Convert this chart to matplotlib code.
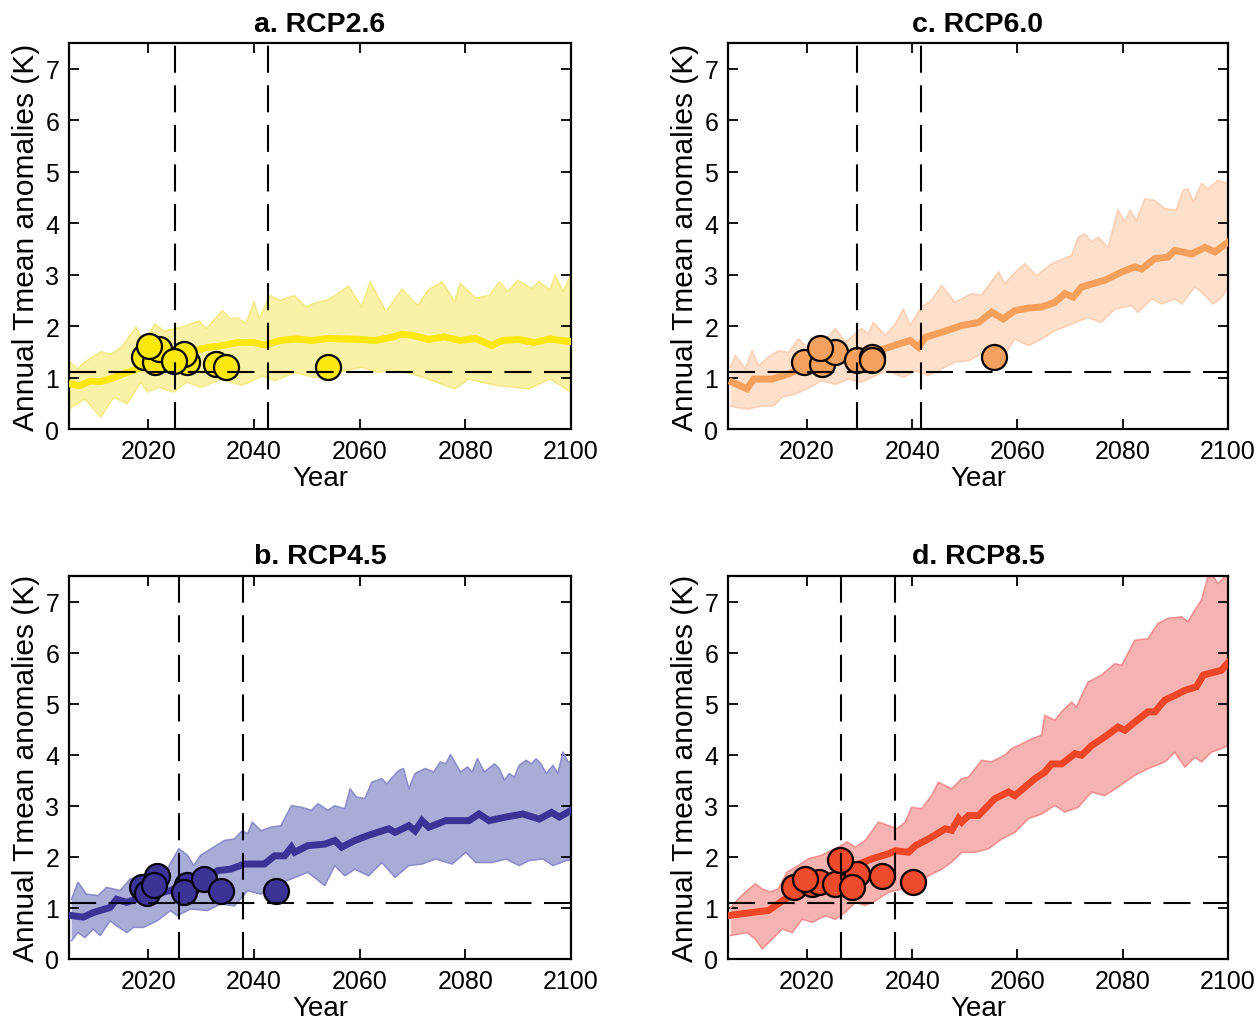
import matplotlib
matplotlib.use("Agg")
import matplotlib.pyplot as plt
import numpy as np

plt.rcParams['font.family'] = ['Liberation Sans', 'DejaVu Sans']

# ---------------- data ----------------
# Panel a: RCP2.6
a_mean_years = [2005, 2007, 2009, 2011, 2013, 2016, 2019, 2022, 2025, 2028, 2031, 2034, 2037, 2040,
                2042, 2045, 2048, 2051, 2054, 2057, 2060, 2063, 2066, 2068, 2070, 2073, 2076, 2079,
                2082, 2085, 2087, 2090, 2093, 2096, 2098, 2100]
a_mean = [0.88, 0.84, 0.93, 0.92, 0.98, 1.10, 1.20, 1.30, 1.36, 1.50, 1.58, 1.62, 1.68, 1.68,
          1.63, 1.72, 1.75, 1.72, 1.76, 1.75, 1.74, 1.72, 1.78, 1.84, 1.82, 1.74, 1.79, 1.72,
          1.76, 1.62, 1.72, 1.74, 1.68, 1.75, 1.72, 1.70]
a_up_years = [2005, 2006.6, 2008, 2011, 2013, 2015, 2017.7, 2019, 2021.3, 2023, 2025, 2027, 2029.6,
              2031, 2034, 2035.5, 2037, 2038.5, 2040, 2041, 2043, 2045, 2047.6, 2049.9, 2051.5,
              2053.7, 2055.5, 2057.9, 2060.4, 2062, 2065, 2068, 2071, 2073, 2075.6, 2078, 2079,
              2082, 2084.6, 2086.5, 2088, 2090, 2092.5, 2094, 2096, 2097, 2098.5, 2100]
a_up = [1.32, 1.17, 1.30, 1.50, 1.45, 1.60, 1.98, 1.70, 2.04, 1.90, 1.95, 2.00, 2.10,
        1.95, 2.30, 2.15, 2.15, 2.05, 2.47, 2.15, 2.59, 2.50, 2.59, 2.37, 2.45,
        2.50, 2.60, 2.78, 2.37, 2.86, 2.28, 2.72, 2.40, 2.70, 2.86, 2.47, 2.83,
        2.54, 2.60, 2.86, 2.67, 2.89, 2.73, 2.86, 2.70, 2.98, 2.67, 3.00]
a_lo_years = [2005, 2008, 2011, 2013.5, 2016, 2018.6, 2019.8, 2022, 2024.8, 2027.3, 2030, 2033.8,
              2037.7, 2041.6, 2044, 2047.8, 2051.6, 2056, 2060.4, 2063.6, 2066, 2070, 2073, 2078,
              2080.6, 2085.7, 2092, 2096, 2098, 2100]
a_lo = [0.39, 0.58, 0.23, 0.62, 0.49, 0.91, 0.72, 0.81, 0.72, 0.91, 0.81, 0.97,
        0.85, 1.03, 0.94, 1.10, 1.00, 1.10, 1.20, 1.10, 1.16, 1.07, 0.97, 0.78,
        0.97, 0.85, 0.78, 0.97, 0.85, 0.72]
a_pt_years = [2019.1, 2021.3, 2022.0, 2020.1, 2027.4, 2026.7, 2024.8, 2032.8, 2034.7, 2054.0]
a_pt_vals = [1.39, 1.30, 1.56, 1.61, 1.30, 1.46, 1.32, 1.26, 1.20, 1.20]
a_vlines = [2025.0, 2042.6]

# Panel b: RCP4.5
b_mean_years = [2005.5, 2007.7, 2009.6, 2012.8, 2014.0, 2015.9, 2019.7, 2024.2, 2027.4, 2030.5,
                2033.1, 2035.6, 2038.2, 2042.0, 2043.9, 2045.8, 2047.1, 2047.7, 2050.2, 2053.4,
                2055.3, 2056.6, 2059.1, 2061.6, 2065.5, 2066.7, 2069.3, 2070.5, 2071.8, 2073.1,
                2076.3, 2080.7, 2082.6, 2084.5, 2087.7, 2090.9, 2094.0, 2096.3, 2097.8, 2100.0]
b_mean = [0.85, 0.82, 0.91, 1.01, 1.17, 1.11, 1.24, 1.34, 1.50, 1.53,
          1.73, 1.76, 1.86, 1.86, 2.02, 2.02, 2.19, 2.09, 2.22, 2.25,
          2.32, 2.19, 2.32, 2.42, 2.55, 2.48, 2.61, 2.51, 2.71, 2.58,
          2.71, 2.71, 2.84, 2.71, 2.78, 2.84, 2.74, 2.87, 2.78, 2.91]
b_up_years = [2005.5, 2006.7, 2008.3, 2010.5, 2012.1, 2014.7, 2016.6, 2019.1, 2021.7, 2023.6,
              2025.8, 2027.4, 2028.6, 2029.9, 2032.4, 2034.4, 2036.3, 2037.8, 2038.8, 2039.7,
              2041.3, 2043.2, 2045.1, 2047.1, 2049.0, 2050.9, 2052.1, 2054.0, 2055.3, 2057.2,
              2058.2, 2059.4, 2061.0, 2062.3, 2064.2, 2065.1, 2067.4, 2068.3, 2069.3, 2070.5,
              2072.4, 2074.0, 2075.3, 2076.3, 2077.2, 2079.1, 2080.4, 2081.3, 2082.3, 2083.6,
              2085.5, 2086.4, 2087.4, 2088.3, 2089.3, 2090.2, 2091.5, 2092.5, 2093.4, 2094.3,
              2095.3, 2096.6, 2097.5, 2098.5, 2099.4, 2100.0]
b_up = [1.17, 1.50, 1.27, 1.24, 1.40, 1.34, 1.57, 1.60, 1.73, 1.76,
        2.16, 2.03, 1.83, 2.03, 2.19, 2.32, 2.35, 2.51, 2.45, 2.68,
        2.51, 2.58, 2.61, 3.00, 2.97, 2.91, 3.04, 2.91, 3.00, 2.94,
        3.33, 3.17, 3.14, 3.46, 3.53, 3.43, 3.69, 3.73, 3.33, 3.63,
        3.73, 3.66, 3.86, 3.82, 4.00, 3.66, 3.76, 3.66, 3.92, 3.66,
        3.82, 3.73, 3.50, 3.63, 3.56, 3.79, 3.89, 3.82, 3.92, 3.82,
        3.63, 3.79, 3.63, 4.05, 3.86, 3.86]
b_lo_years = [2005.5, 2006.7, 2008.0, 2009.6, 2010.9, 2012.8, 2014.0, 2016.0, 2017.2, 2019.1,
              2021.7, 2024.2, 2025.5, 2028.0, 2031.2, 2033.7, 2036.3, 2038.8, 2041.3, 2043.9,
              2047.1, 2050.2, 2053.4, 2055.3, 2057.2, 2059.1, 2061.7, 2064.2, 2066.7, 2069.3,
              2071.8, 2074.4, 2077.5, 2080.1, 2082.0, 2085.1, 2087.7, 2090.2, 2092.1, 2094.7,
              2096.6, 2099.1, 2100.0]
b_lo = [0.36, 0.52, 0.42, 0.59, 0.46, 0.75, 0.65, 0.52, 0.62, 0.62,
        0.75, 0.95, 0.85, 0.98, 0.95, 1.08, 1.04, 1.34, 1.27, 1.44,
        1.57, 1.70, 1.44, 1.83, 1.63, 1.76, 1.63, 1.89, 1.60, 1.83,
        1.86, 1.96, 1.86, 2.09, 1.89, 1.89, 1.96, 1.83, 1.93, 1.96,
        1.83, 1.93, 1.93]
b_pt_years = [2018.8, 2019.7, 2021.7, 2021.0, 2027.3, 2026.7, 2030.5, 2033.7, 2044.2]
b_pt_vals = [1.41, 1.30, 1.63, 1.45, 1.45, 1.31, 1.57, 1.34, 1.34]
b_vlines = [2025.9, 2038.0]

# Panel c: RCP6.0
c_mean_years = [2005.8, 2008.6, 2009.9, 2013.4, 2016.5, 2020.3, 2024.7, 2029.2, 2033.6, 2037.4,
                2039.6, 2041.2, 2042.5, 2045.6, 2049.4, 2052.6, 2055.1, 2057.3, 2059.5, 2062.1,
                2064.6, 2067.1, 2069.0, 2070.6, 2072.2, 2076.6, 2079.8, 2082.3, 2083.6, 2086.1,
                2088.6, 2089.9, 2093.1, 2095.6, 2097.5, 2100.0]
c_mean = [0.91, 0.78, 0.97, 0.97, 1.07, 1.23, 1.30, 1.40, 1.52, 1.65,
          1.72, 1.59, 1.78, 1.88, 2.01, 2.07, 2.27, 2.14, 2.30, 2.35,
          2.37, 2.46, 2.63, 2.56, 2.76, 2.89, 3.05, 3.15, 3.11, 3.31,
          3.34, 3.47, 3.40, 3.53, 3.44, 3.63]
c_up_years = [2005.5, 2006.4, 2008.3, 2009.6, 2010.8, 2012.7, 2014.6, 2016.5, 2018.4, 2020.3,
              2022.8, 2025.4, 2027.3, 2030.4, 2031.7, 2032.6, 2034.9, 2036.8, 2038.3, 2039.6,
              2041.8, 2043.7, 2045.6, 2048.1, 2051.3, 2053.2, 2054.5, 2056.4, 2057.6, 2058.9,
              2061.4, 2063.6, 2066.5, 2070.3, 2071.6, 2072.8, 2074.1, 2075.3, 2077.2, 2079.1,
              2080.4, 2081.4, 2082.6, 2084.2, 2086.1, 2088.0, 2090.2, 2091.5, 2092.4, 2093.4,
              2095.0, 2096.2, 2098.1, 2100.0]
c_up = [1.20, 1.43, 1.17, 1.52, 1.23, 1.40, 1.52, 1.49, 1.75, 1.56,
        1.65, 1.95, 1.69, 1.95, 1.85, 2.07, 1.82, 2.04, 2.33, 2.01,
        2.37, 2.50, 2.79, 2.46, 2.63, 2.60, 2.79, 3.05, 2.82, 2.98,
        3.21, 2.98, 3.21, 3.37, 3.73, 3.79, 3.63, 3.73, 3.53, 4.25,
        4.02, 4.25, 4.05, 4.47, 4.44, 4.28, 4.25, 4.64, 4.67, 4.41,
        4.77, 4.67, 4.83, 4.77]
c_lo_years = [2005.5, 2006.4, 2008.9, 2011.5, 2013.7, 2015.3, 2017.8, 2020.6, 2022.8, 2025.4,
              2027.9, 2030.4, 2033.0, 2035.5, 2038.3, 2040.6, 2043.1, 2045.6, 2048.1, 2050.7,
              2053.8, 2057.0, 2059.5, 2062.1, 2064.6, 2067.1, 2070.3, 2073.4, 2075.9, 2078.5,
              2081.7, 2082.9, 2085.5, 2087.4, 2089.9, 2091.2, 2093.7, 2095.0, 2097.2, 2098.8,
              2100.0]
c_lo = [0.45, 0.42, 0.39, 0.45, 0.45, 0.62, 0.68, 0.81, 0.94, 0.87,
        0.97, 0.91, 1.04, 1.13, 1.00, 1.13, 1.04, 1.17, 1.30, 1.33,
        1.49, 1.36, 1.75, 1.62, 1.75, 1.91, 2.04, 2.17, 2.07, 2.33,
        2.40, 2.27, 2.53, 2.43, 2.53, 2.43, 2.76, 2.66, 2.43, 2.56,
        2.76]
c_pt_years = [2019.4, 2022.8, 2025.4, 2022.5, 2029.5, 2032.3, 2032.3, 2055.6]
c_pt_vals = [1.30, 1.26, 1.49, 1.57, 1.35, 1.39, 1.35, 1.39]
c_vlines = [2029.5, 2041.6]

# Panel d: RCP8.5
d_mean_years = [2005.0, 2010.2, 2012.7, 2015.9, 2019.7, 2022.8, 2026.0, 2029.2, 2032.3, 2035.5,
                2036.8, 2039.3, 2040.6, 2043.1, 2046.3, 2047.5, 2048.8, 2049.4, 2050.7, 2052.6,
                2055.7, 2058.3, 2059.5, 2063.3, 2065.2, 2066.5, 2068.4, 2070.9, 2072.2, 2074.1,
                2076.6, 2079.1, 2080.4, 2082.3, 2084.8, 2086.1, 2088.0, 2089.9, 2091.8, 2094.0,
                2095.3, 2097.5, 2098.7, 2100.0]
d_mean = [0.85, 0.92, 0.95, 1.18, 1.37, 1.50, 1.67, 1.83, 1.96, 2.06,
          2.12, 2.09, 2.22, 2.35, 2.55, 2.52, 2.75, 2.68, 2.81, 2.81,
          3.14, 3.27, 3.20, 3.53, 3.66, 3.82, 3.82, 4.02, 3.99, 4.18,
          4.35, 4.54, 4.48, 4.64, 4.84, 4.84, 5.07, 5.16, 5.26, 5.33,
          5.56, 5.62, 5.65, 5.80]
d_up_years = [2005.5, 2007.0, 2009.0, 2010.2, 2011.5, 2013.0, 2014.6, 2016.2, 2018.4, 2020.3,
              2022.8, 2026.0, 2027.6, 2029.2, 2031.1, 2033.6, 2035.5, 2037.1, 2038.7, 2039.9,
              2041.8, 2043.7, 2045.0, 2047.5, 2049.4, 2050.7, 2053.2, 2055.1, 2057.6, 2058.9,
              2060.2, 2062.7, 2064.6, 2065.2, 2067.1, 2068.4, 2070.3, 2071.2, 2073.4, 2076.0,
              2078.5, 2079.8, 2082.3, 2084.8, 2086.7, 2088.6, 2091.2, 2092.4, 2093.7, 2095.0,
              2096.5, 2098.1, 2100.0]
d_up = [1.00, 1.18, 1.37, 1.47, 1.37, 1.31, 1.37, 1.70, 1.83, 1.96,
        2.03, 2.19, 2.29, 2.19, 2.32, 2.68, 2.61, 2.55, 2.68, 2.97,
        2.94, 3.20, 3.46, 3.33, 3.53, 3.56, 3.89, 3.86, 3.99, 4.12,
        4.18, 4.31, 4.38, 4.77, 4.67, 4.84, 5.03, 4.93, 5.42, 5.56,
        5.78, 5.75, 6.24, 6.27, 6.57, 6.67, 6.70, 6.60, 6.83, 7.03,
        7.60, 7.35, 7.55]
d_lo_years = [2005.5, 2008.6, 2010.2, 2011.5, 2013.4, 2015.3, 2017.2, 2019.1, 2021.0, 2023.5,
              2025.4, 2027.3, 2029.2, 2031.1, 2033.0, 2035.5, 2038.0, 2040.6, 2043.1, 2045.6,
              2047.5, 2049.4, 2051.9, 2054.5, 2057.0, 2059.5, 2062.1, 2064.6, 2067.1, 2069.0,
              2071.5, 2074.1, 2076.6, 2079.1, 2082.3, 2084.8, 2088.0, 2089.9, 2091.8, 2093.7,
              2095.0, 2096.8, 2098.7, 2100.0]
d_lo = [0.46, 0.52, 0.39, 0.20, 0.39, 0.59, 0.52, 0.78, 0.72, 0.85,
        0.78, 0.92, 1.11, 1.05, 1.14, 1.31, 1.37, 1.47, 1.63, 1.76,
        1.90, 2.09, 2.09, 2.16, 2.35, 2.48, 2.75, 2.84, 3.01, 2.88,
        2.97, 3.27, 3.20, 3.37, 3.60, 3.73, 3.86, 4.05, 3.76, 3.95,
        3.86, 4.05, 4.12, 4.18]
d_pt_years = [2017.5, 2021.0, 2022.2, 2019.7, 2025.4, 2029.5, 2028.5, 2026.3, 2034.2, 2040.2]
d_pt_vals = [1.41, 1.47, 1.50, 1.57, 1.47, 1.67, 1.41, 1.93, 1.62, 1.50]
d_vlines = [2026.5, 2036.8]

threshold = 1.1
titles = ["a. RCP2.6", "b. RCP4.5", "c. RCP6.0", "d. RCP8.5"]
x_ticks = [2020, 2040, 2060, 2080, 2100]
y_ticks = [0, 1, 2, 3, 4, 5, 6, 7]

# ---------------- styling ----------------
W, H = 1258, 1020
fig = plt.figure(figsize=(W / 100, H / 100), dpi=100)

def pos(l, t, r, b):
    return [l / W, 1 - b / H, (r - l) / W, (b - t) / H]

panels = [
    dict(rect=pos(69, 44, 571, 430), title=titles[0],
         mean=(a_mean_years, a_mean), up=(a_up_years, a_up), lo=(a_lo_years, a_lo),
         pts=(a_pt_years, a_pt_vals), vl=a_vlines,
         line='#FCE80C', band='#F9F1A6', edge='#F5EA8A', pt='#FCE80C'),
    dict(rect=pos(69, 577, 571, 960), title=titles[1],
         mean=(b_mean_years, b_mean), up=(b_up_years, b_up), lo=(b_lo_years, b_lo),
         pts=(b_pt_years, b_pt_vals), vl=b_vlines,
         line='#3B3496', band='#AAACD8', edge='#8C8ECA', pt='#3B3496'),
    dict(rect=pos(728, 44, 1228, 430), title=titles[2],
         mean=(c_mean_years, c_mean), up=(c_up_years, c_up), lo=(c_lo_years, c_lo),
         pts=(c_pt_years, c_pt_vals), vl=c_vlines,
         line='#F6A05C', band='#FDE0CB', edge='#FBD0B4', pt='#F4A05E'),
    dict(rect=pos(728, 577, 1228, 960), title=titles[3],
         mean=(d_mean_years, d_mean), up=(d_up_years, d_up), lo=(d_lo_years, d_lo),
         pts=(d_pt_years, d_pt_vals), vl=d_vlines,
         line='#EE4626', band='#F6B3B2', edge='#F09090', pt='#EE4A2C'),
]

for p in panels:
    ax = fig.add_axes(p['rect'])
    uy, uv = p['up']
    ly, lv = p['lo']
    poly_x = list(uy) + list(ly)[::-1]
    poly_y = list(uv) + list(lv)[::-1]
    ax.fill(poly_x, poly_y, color=p['band'], lw=0, zorder=1)
    ax.plot(uy, uv, color=p['edge'], lw=1.2, zorder=2)
    ax.plot(ly, lv, color=p['edge'], lw=1.2, zorder=2)
    my, mv = p['mean']
    ax.plot(my, mv, color=p['line'], lw=5, zorder=3, solid_joinstyle='miter')
    px, pv = p['pts']
    ax.plot(px, pv, 'o', ms=18, mfc=p['pt'], mec='black', mew=1.6, zorder=4, linestyle='none')
    ax.axhline(threshold, color='black', lw=1.5, dashes=(13, 6), zorder=5)
    for v in p['vl']:
        ax.axvline(v, color='black', lw=1.5, dashes=(13, 6), zorder=5)
    ax.set_xlim(2005, 2100)
    ax.set_ylim(0, 7.5)
    ax.set_xticks(x_ticks)
    ax.set_yticks(y_ticks)
    ax.tick_params(direction='in', top=True, right=True, length=7, width=1.3,
                   labelsize=18, pad=7)
    for s in ax.spines.values():
        s.set_linewidth(1.6)
    ax.set_xlabel('Year', fontsize=20, labelpad=2)
    ax.set_ylabel('Annual Tmean anomalies (K)', fontsize=21.5, labelpad=4)
    ax.set_title(p['title'], fontsize=20.5, fontweight='bold', pad=9)

fig.savefig('out.png', dpi=100)
